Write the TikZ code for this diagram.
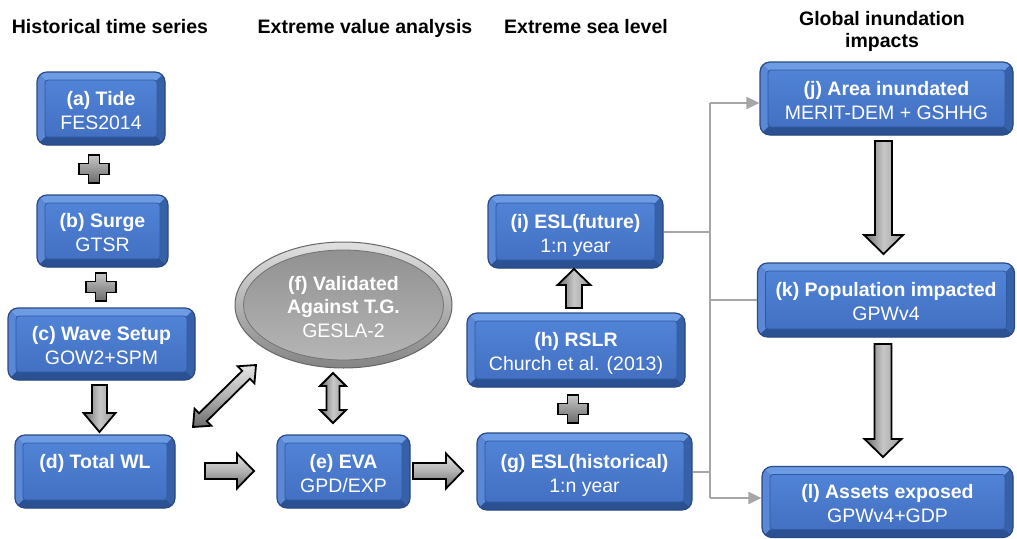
\documentclass[tikz,border=0pt]{standalone}
\usepackage{fontspec}
\setmainfont{Liberation Sans}
\usetikzlibrary{shapes.geometric,arrows.meta,calc}
\definecolor{boxedge}{HTML}{2A4A85}
\definecolor{boxrim}{HTML}{4272C4}
\definecolor{bevtop}{HTML}{6E9CE4}
\definecolor{bevleft}{HTML}{5A88D6}
\definecolor{bevbot}{HTML}{2B5193}
\definecolor{bevright}{HTML}{3660A8}
\definecolor{facetop}{HTML}{5083D6}
\definecolor{facebot}{HTML}{4370C2}
\definecolor{faceedge}{HTML}{2F5AA0}
\definecolor{connline}{HTML}{A6A6A6}
\newcommand\topstrut{\rule{0pt}{22pt}}
\newcommand\botstrut{\rule[-5pt]{0pt}{5pt}}
\newcommand\rarrow[6]{\path[blockh] (#1,#3-#4) -- (#2-#6,#3-#4) -- (#2-#6,#3-#5) -- (#2,#3) -- (#2-#6,#3+#5) -- (#2-#6,#3+#4) -- (#1,#3+#4) -- cycle;}
\newcommand\darrow[6]{\path[blockv] (#1-#4,#2) -- (#1+#4,#2) -- (#1+#4,#3-#6) -- (#1+#5,#3-#6) -- (#1,#3) -- (#1-#5,#3-#6) -- (#1-#4,#3-#6) -- cycle;}
\newcommand\uarrow[6]{\path[blockv] (#1,#2) -- (#1+#5,#2+#6) -- (#1+#4,#2+#6) -- (#1+#4,#3) -- (#1-#4,#3) -- (#1-#4,#2+#6) -- (#1-#5,#2+#6) -- cycle;}
\newcommand\vdarrow[6]{\path[blockv] (#1,#2) -- (#1+#5,#2+#6) -- (#1+#4,#2+#6) -- (#1+#4,#3-#6) -- (#1+#5,#3-#6) -- (#1,#3) -- (#1-#5,#3-#6) -- (#1-#4,#3-#6) -- (#1-#4,#2+#6) -- (#1-#5,#2+#6) -- cycle;}
\newcommand\plussign[2]{\path[plusshade] (#1-5.5,#2-14) -- (#1+5.5,#2-14) -- (#1+5.5,#2-5.5) -- (#1+15,#2-5.5) -- (#1+15,#2+5.5) -- (#1+5.5,#2+5.5) -- (#1+5.5,#2+14) -- (#1-5.5,#2+14) -- (#1-5.5,#2+5.5) -- (#1-15,#2+5.5) -- (#1-15,#2-5.5) -- (#1-5.5,#2-5.5) -- cycle;}
\tikzset{
  bluebox/.style={draw=boxedge, line width=1.2pt, rounded corners=10pt, fill=boxrim,
    text=white, align=center, inner sep=0pt, font=\fontsize{19.5}{24}\selectfont,
    path picture={
      \coordinate (ppnw) at (path picture bounding box.north west);
      \coordinate (ppne) at (path picture bounding box.north east);
      \coordinate (ppsw) at (path picture bounding box.south west);
      \coordinate (ppse) at (path picture bounding box.south east);
      \fill[bevtop, sharp corners] (ppnw) -- (ppne) -- ($(ppne)+(-8pt,-8pt)$) -- ($(ppnw)+(8pt,-8pt)$) -- cycle;
      \fill[bevleft, sharp corners] (ppnw) -- ($(ppnw)+(8pt,-8pt)$) -- ($(ppsw)+(8pt,8pt)$) -- (ppsw) -- cycle;
      \fill[bevbot, sharp corners] (ppsw) -- ($(ppsw)+(8pt,8pt)$) -- ($(ppse)+(-8pt,8pt)$) -- (ppse) -- cycle;
      \fill[bevright, sharp corners] (ppne) -- (ppse) -- ($(ppse)+(-8pt,8pt)$) -- ($(ppne)+(-8pt,-8pt)$) -- cycle;
      \shade[rounded corners=3pt, top color=facetop, bottom color=facebot, draw=faceedge, line width=0.8pt]
        ($(ppnw)+(8pt,-8pt)$) rectangle ($(ppse)+(-8pt,8pt)$);
    }},
  ellipsebox/.style={ellipse, draw=black!60, line width=1pt, inner sep=0pt,
    top color=black!12, bottom color=black!48,
    text=white, align=center, font=\fontsize{19.5}{23.5}\selectfont,
    path picture={
      \shade[top color=black!44, bottom color=black!28, draw=black!55, line width=0.8pt]
        (path picture bounding box.center) ellipse (100pt and 55pt);
    }},
  blockh/.style={draw=black, line width=1.8pt, line join=miter, top color=black!10, bottom color=black!58, middle color=black!30},
  blockv/.style={draw=black, line width=1.8pt, line join=miter, left color=black!58, right color=black!40, middle color=black!22},
  plusshade/.style={draw=black, line width=1.8pt, top color=black!22, bottom color=black!58},
  hdr/.style={font=\fontsize{19.5}{22}\selectfont\bfseries, text=black, inner sep=0pt, align=center},
  conn/.style={draw=connline, line width=2pt},
  connarrow/.style={conn, -{Triangle[length=13pt,width=12pt]}}
}
\begin{document}
\begin{tikzpicture}[x=1pt,y=-1pt]
\useasboundingbox (0,0) rectangle (1017,538);
\fill[white] (0,0) rectangle (1017,538);
% headers
\node[hdr, anchor=base] (h1) at (110,33) {Historical time series};
\node[hdr, anchor=base] (h2) at (365,33) {Extreme value analysis};
\node[hdr, anchor=base] (h3) at (586,33) {Extreme sea level};
\node[hdr] (h4) at (882,31) {Global inundation\\impacts};
% boxes
\node[bluebox, minimum width=128pt, minimum height=73pt] (a) at (101,108.5) {\topstrut\textbf{(a) Tide}\\FES2014\botstrut};
\node[bluebox, minimum width=131pt, minimum height=72pt] (b) at (102.5,231) {\topstrut\textbf{(b) Surge}\\GTSR\botstrut};
\node[bluebox, minimum width=187pt, minimum height=72pt] (c) at (101.5,344) {\topstrut\textbf{(c) Wave Setup}\\GOW2+SPM\botstrut};
\node[bluebox, minimum width=160pt, minimum height=73pt] (d) at (95,471.5) {\topstrut\textbf{(d) Total WL}\\\botstrut};
\node[bluebox, minimum width=133pt, minimum height=73pt] (e) at (343.5,471.5) {\topstrut\textbf{(e) EVA}\\GPD/EXP\botstrut};
\node[ellipsebox, minimum width=217pt, minimum height=126pt] (f) at (343.5,305) {\topstrut\textbf{(f) Validated}\\\textbf{Against T.G.}\\GESLA-2\botstrut};
\node[bluebox, minimum width=215pt, minimum height=77pt] (g) at (584.5,471.5) {\topstrut\textbf{(g) ESL(historical)}\\1:n year\botstrut};
\node[bluebox, minimum width=218pt, minimum height=74pt] (h) at (576,350) {\topstrut\textbf{(h) RSLR}\\Church et al. (2013)\botstrut};
\node[bluebox, minimum width=175pt, minimum height=73pt] (i) at (575.5,231.5) {\topstrut\textbf{(i) ESL(future)}\\1:n year\botstrut};
\node[bluebox, minimum width=253pt, minimum height=73pt] (j) at (886.5,98.5) {\topstrut\textbf{(j) Area inundated}\\MERIT-DEM + GSHHG\botstrut};
\node[bluebox, minimum width=257pt, minimum height=74pt] (k) at (886,300) {\topstrut\textbf{(k) Population impacted}\\GPWv4\botstrut};
\node[bluebox, minimum width=251pt, minimum height=71pt] (l) at (887.5,502) {\topstrut\textbf{(l) Assets exposed}\\GPWv4+GDP\botstrut};
% plus signs
\plussign{94}{169}
\plussign{101}{287}
\plussign{573}{409}
% block arrows
\darrow{99.5}{385}{432}{7.5}{16}{19}
\rarrow{205}{254}{471}{8}{17.5}{17}
\rarrow{413}{463}{471}{8}{17.5}{17}
\vdarrow{333}{373}{423}{6.5}{13}{13}
\uarrow{574}{269}{308}{8}{16.5}{16}
\darrow{883.5}{141}{254}{8.5}{19.5}{19}
\darrow{883}{344}{457}{8.5}{18.5}{18}
\path[blockh] (193,427) -- (211.40,425.73) -- (206.84,421.10) -- (249.88,378.74) -- (254.44,383.37) -- (256,365)
  -- (237.60,366.27) -- (242.16,370.90) -- (199.12,413.26) -- (194.56,408.63) -- cycle;
% connectors
\coordinate (jt) at (710,103);
\coordinate (lb) at (710,498);
\coordinate (kt) at (710,300);
\draw[conn] (jt) -- (lb);
\draw[conn] (i.east) -- (i.east -| jt);
\draw[conn] (g.east) -- (g.east -| jt);
\draw[conn] (kt) -- (kt -| k.west);
\draw[connarrow] (jt) -- (jt -| j.west);
\draw[connarrow] (lb) -- (lb -| l.west);
\end{tikzpicture}
\end{document}
